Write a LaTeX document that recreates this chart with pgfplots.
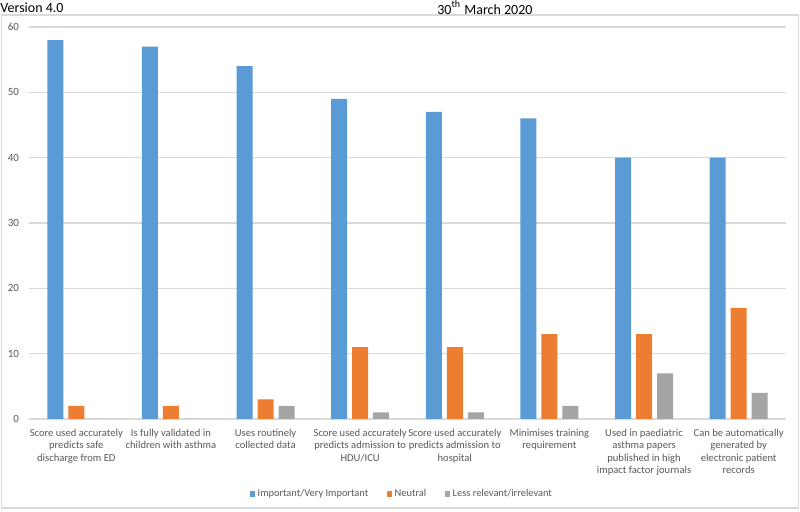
\documentclass[border=0pt]{standalone}
\usepackage{pgfplots}
\pgfplotsset{compat=1.18}
\usepackage{fontspec}
\setmainfont{Carlito}
\definecolor{cblue}{HTML}{5B9BD5}
\definecolor{corange}{HTML}{ED7D31}
\definecolor{cgray}{HTML}{A5A5A5}
\definecolor{cgrid}{HTML}{D9D9D9}
\definecolor{ctext}{HTML}{595959}
\begin{document}
\begin{tikzpicture}
\path[use as bounding box] (0,0) rectangle (400pt,-256pt);
\draw[cgrid, line width=0.6pt] (0.6pt,-7.5pt) rectangle (399.2pt,-254pt);
\node[anchor=west, inner sep=0pt, font=\fontsize{7}{8}\selectfont] at (0pt,-3.8pt) {Version 4.0};
\node[anchor=west, inner sep=0pt, font=\fontsize{7}{8}\selectfont] at (218.5pt,-3.8pt) {30\textsuperscript{th} March 2020};
\begin{axis}[
  at={(14.5pt,-209.5pt)}, anchor=south west,
  scale only axis, width=378.5pt, height=196pt,
  ybar=2.5pt, bar width=8pt,
  xmin=-0.5, xmax=7.5, ymin=0, ymax=60,
  ytick={0,10,...,60},
  xtick={0,...,7},
  xticklabels={{Score used accurately\\predicts safe\\discharge from ED},
    {Is fully validated in\\children with asthma},
    {Uses routinely\\collected data},
    {Score used accurately\\predicts admission to\\HDU/ICU},
    {Score used accurately\\predicts admission to\\hospital},
    {Minimises training\\requirement},
    {Used in paediatric\\asthma papers\\published in high\\impact factor journals},
    {Can be automatically\\generated by\\electronic patient\\records}},
  xticklabel style={align=center, font=\fontsize{5.3}{6.25}\selectfont, text=ctext, anchor=north, yshift=-1.5pt},
  yticklabel style={font=\fontsize{5.5}{6.5}\selectfont, text=ctext, xshift=-1.5pt},
  /pgf/number format/assume math mode=true,
  major tick length=0pt,
  ymajorgrids, grid style={cgrid, line width=0.6pt},
  axis x line*=bottom, axis y line*=left,
  y axis line style={draw=none},
  x axis line style={cgrid, line width=0.6pt, -},
  legend style={at={(0.4927,-0.192)}, anchor=center, draw=none, fill=none,
    legend columns=3, font=\fontsize{5.2}{6.2}\selectfont, text=ctext,
    column sep=0pt, nodes={inner xsep=1.2pt}},
  legend image code/.code={\fill[#1] (0pt,-1.4pt) rectangle (2.8pt,1.4pt);},
]
\addplot[fill=cblue, draw=none] coordinates {(0,58) (1,57) (2,54) (3,49) (4,47) (5,46) (6,40) (7,40)};
\addplot[fill=corange, draw=none] coordinates {(0,2) (1,2) (2,3) (3,11) (4,11) (5,13) (6,13) (7,17)};
\addplot[fill=cgray, draw=none] coordinates {(0,0) (1,0) (2,2) (3,1) (4,1) (5,2) (6,7) (7,4)};
\legend{Important/Very Important\rule{8pt}{0pt}, Neutral\rule{8pt}{0pt}, Less relevant/irrelevant}
\end{axis}
\end{tikzpicture}
\end{document}
